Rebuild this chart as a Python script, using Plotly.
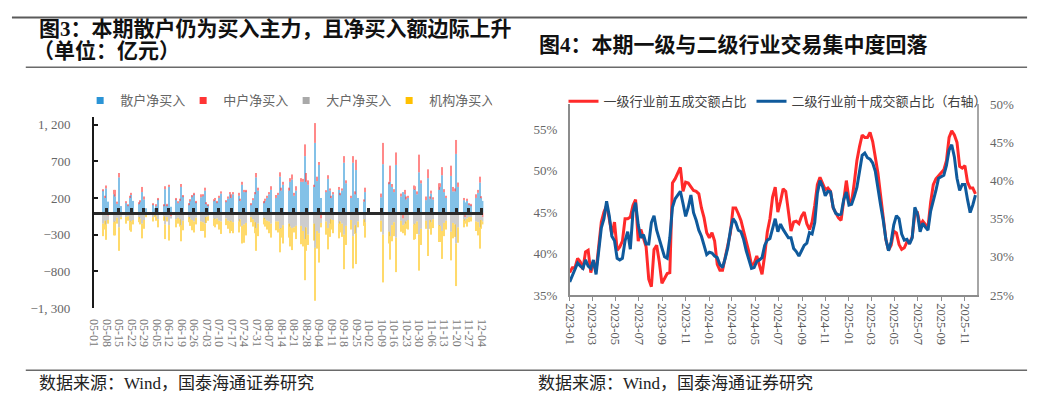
import plotly.graph_objects as go
import pandas as pd

W, H = 1038, 408

# ---------------- Left chart data (亿元), trading days of 2025 ----------------
trade_days = [
    # May
    "05-06", "05-07", "05-08", "05-09", "05-12", "05-13", "05-14", "05-15", "05-16", "05-19",
    "05-20", "05-21", "05-22", "05-23", "05-26", "05-27", "05-28", "05-29", "05-30",
    # June
    "06-03", "06-04", "06-05", "06-06", "06-09", "06-10", "06-11", "06-12", "06-13", "06-16",
    "06-17", "06-18", "06-19", "06-20", "06-23", "06-24", "06-25", "06-26", "06-27", "06-30",
    # July
    "07-01", "07-02", "07-03", "07-04", "07-07", "07-08", "07-09", "07-10", "07-11", "07-14",
    "07-15", "07-16", "07-17", "07-18", "07-21", "07-22", "07-23", "07-24", "07-25", "07-28",
    "07-29", "07-30", "07-31",
    # August
    "08-01", "08-04", "08-05", "08-06", "08-07", "08-08", "08-11", "08-12", "08-13", "08-14",
    "08-15", "08-18", "08-19", "08-20", "08-21", "08-22", "08-25", "08-26", "08-27", "08-28",
    "08-29",
    # September
    "09-01", "09-02", "09-03", "09-04", "09-05", "09-08", "09-09", "09-10", "09-11", "09-12",
    "09-15", "09-16", "09-17", "09-18", "09-19", "09-22", "09-23", "09-24", "09-25", "09-26",
    "09-29", "09-30",
    # October
    "10-09", "10-10", "10-13", "10-14", "10-15", "10-16", "10-17", "10-20", "10-21", "10-22",
    "10-23", "10-24", "10-27", "10-28", "10-29", "10-30", "10-31",
    # November
    "11-03", "11-04", "11-05", "11-06", "11-07", "11-10", "11-11", "11-12", "11-13", "11-14",
    "11-17", "11-18", "11-19", "11-20", "11-21", "11-24", "11-25", "11-26", "11-27", "11-28",
    # December
    "12-01", "12-02", "12-03", "12-04", "12-05",
]
year = "2025"

retail = [
    300, 200, 330, 150, 250, 220, 120, 480, 90, 130, 100, 200, 240, 160, 120, 150, 280, 180, 60,
    110, 60, 90, 180, 100, 320, 100, 350, 80, 180, 130, 160, 350, 220, 110, 160, 220, 250, 140, 210,
    230, 300, 120, 100, 160, 170, 140, 200, 260, 150, 190, 250, 200, 250, 230, 160, 380, 280, 290, 110, 170, 250, 480,
    300, 140, 160, 200, 250, 310, 200, 240, 490, 300, 380, 300, 420, 450, 230, 300, 420, 420, 770, 420, 380,
    350, 950, 430, 650, 200, 280, 460, 300, 200, 250, 310, 250, 300, 680, 400, 200, 680, 250, 580, 200, 150, 280,
    210, 660, 400, 420, 350, 280, 650, 220, 280, 250, 180, 200, 320, 310, 250, 550, 400,
    170, 470, 190, 260, 180, 310, 350, 510, 280, 200, 500, 290, 290, 800, 350, 170, 140, 160, 110, 100,
    200, 270, 410, 200, 160,
]
mid = [
    20, 30, 40, -40, 60, 90, 30, 60, -20, 20, 10, 30, 30, -30, 10, 10, 70, 40, -20,
    10, -10, 20, 20, 10, 40, 20, 30, -50, 20, 20, 30, 40, 20, 20, 20, 20, 20, 20, 40,
    20, 40, 20, 10, 20, 30, 20, 30, 30, 20, 30, 30, 50, 30, 40, 30, 40, 30, 20, 20, 20, 30, 60,
    40, 20, 30, 30, 30, 50, 40, 30, 60, 40, 40, 40, 50, 70, 40, 60, 50, 40, 160, 120, 60,
    30, 270, 60, 40, -80, 20, 50, 30, 30, 30, 40, 20, 30, 90, 40, 30, 90, 40, 140, -30, 30, 60,
    50, 290, 20, 220, 40, 40, 170, 40, -80, 60, 40, 30, 50, 50, 40, 240, 40,
    50, 120, 30, 40, 30, 90, 50, 110, 40, 30, 140, 60, 40, 190, 60, 30, -60, 30, 20, 20,
    50, 40, 80, 20, -60,
]
large = [
    -150, -110, -160, -60, -130, -120, -70, -200, -40, -60, -50, -110, -120, -70, -60, -80, -150, -100, -20,
    -60, -30, -50, -90, -50, -160, -60, -170, -30, -90, -70, -90, -170, -110, -60, -80, -100, -120, -70, -120,
    -130, -150, -60, -50, -80, -90, -80, -110, -120, -80, -110, -120, -110, -130, -120, -90, -180, -160, -140, -60, -90, -130, -210,
    -150, -70, -90, -110, -120, -150, -120, -120, -220, -210, -170, -150, -190, -210, -200, -180, -180, -250, -360, -200, -300,
    -150, -480, -250, -280, -60, -120, -210, -150, -90, -100, -150, -120, -150, -300, -180, -100, -320, -170, -280, -90, -90, -130,
    -110, -300, -260, -320, -170, -130, -340, -110, -90, -150, -120, -100, -160, -150, -120, -300, -220,
    -110, -230, -100, -130, -90, -170, -180, -250, -140, -110, -260, -140, -160, -420, -200, -90, -50, -80, -60, -60,
    -120, -130, -200, -100, -60,
]
inst = [
    -170, -120, -210, -50, -180, -190, -80, -320, -30, -90, -60, -130, -140, -60, -70, -80, -200, -120, -20,
    -60, -20, -60, -110, -60, -200, -60, -210, 0, -110, -80, -100, -220, -130, -70, -100, -140, -150, -90, -130,
    -120, -190, -80, -60, -100, -110, -80, -120, -170, -90, -110, -160, -140, -150, -150, -100, -240, -250, -170, -70, -100, -150, -310,
    -170, -90, -100, -120, -160, -190, -120, -150, -320, -130, -250, -190, -270, -300, -70, -180, -250, -210, -560, -320, -140,
    -230, -720, -240, -400, -60, -180, -290, -180, -140, -180, -200, -150, -180, -470, -260, -130, -440, -120, -420, -80, -90, -210,
    -150, -650, -160, -320, -220, -190, -470, -150, -110, -160, -100, -130, -210, -210, -170, -490, -220,
    -110, -360, -120, -170, -120, -230, -220, -380, -180, -120, -390, -210, -170, -580, -210, -110, -40, -110, -70, -60,
    -130, -180, -290, -120, -40,
]
left_names = ["散户净买入", "中户净买入", "大户净买入", "机构净买入"]
left_ticks = [-1300, -800, -300, 200, 700, 1200]
left_tick_text = ["−1, 300", "−800", "−300", "200", "700", "1, 200"]

# ---------------- Right chart data (%), weekly ----------------
right_start, right_end = "2023-01-01", "2025-11-29"
top5_lv1 = [
    37.7, 38.3, 38.3, 39.4, 39.0, 38.1, 40.2, 40.4, 37.7, 39.0,
    37.9, 41.2, 43.8, 45.0, 45.8, 44.2, 42.3, 43.8, 40.4, 40.8,
    41.5, 44.2, 44.2, 44.4, 45.8, 46.5, 41.5, 42.9, 41.7, 40.8,
    36.9, 36.0, 40.5, 41.0, 39.0, 36.4, 37.0, 37.6, 37.7, 48.5,
    49.0, 49.8, 50.4, 47.5, 48.6, 48.5, 48.0, 47.6, 47.5, 47.2,
    45.5, 44.3, 42.5, 41.9, 42.5, 41.5, 38.7, 38.0, 38.0, 39.4,
    40.8, 42.5, 45.5, 45.5, 44.8, 44.0, 42.7, 41.5, 40.2, 38.6,
    38.8, 39.7, 38.5, 37.5, 39.8, 42.6, 44.2, 46.8, 48.0, 45.0,
    46.3, 47.8, 47.5, 45.0, 42.7, 43.8, 43.9, 43.6, 44.5, 45.0,
    43.6, 42.9, 43.8, 45.8, 48.3, 49.2, 48.4, 47.7, 47.9, 47.5,
    45.5, 44.8, 44.3, 44.0, 46.5, 48.8, 46.5, 46.2, 48.5, 51.2,
    52.9, 54.3, 54.0, 54.0, 54.6, 53.5, 51.6, 49.7, 47.0, 44.0,
    41.7, 40.4, 41.0, 42.7, 42.5, 41.1, 40.5, 40.7, 41.4, 41.3,
    42.0, 44.8, 44.9, 43.4, 43.9, 43.5, 43.2, 46.2, 48.3, 49.0,
    49.4, 49.8, 50.1, 51.2, 54.0, 54.8, 54.3, 53.4, 50.5, 50.3,
    50.6, 48.6, 47.9, 47.9, 47.2,
]
top10_lv2 = [
    26.7, 27.5, 28.3, 29.2, 28.8, 28.5, 29.6, 28.8, 28.5, 29.6,
    27.7, 30.8, 33.8, 35.0, 37.3, 35.4, 32.7, 32.1, 29.8, 29.6,
    29.8, 32.1, 33.3, 31.0, 35.8, 37.1, 34.2, 32.5, 32.9, 31.7,
    31.7, 34.5, 35.4, 33.5, 32.3, 31.3, 30.0, 29.8, 32.5, 36.5,
    37.6, 38.1, 38.6, 37.0, 35.3, 36.5, 38.1, 35.8, 34.8, 33.5,
    32.7, 31.5, 30.3, 30.6, 30.5, 30.1, 29.9, 29.0, 28.6, 29.8,
    31.2, 33.5, 35.0, 34.5, 33.5, 33.3, 32.3, 30.8, 29.7, 28.5,
    28.6, 29.4, 29.6, 29.9, 31.5, 32.2, 32.4, 33.8, 35.0, 33.3,
    34.3, 33.6, 33.0, 32.5, 32.5, 31.1, 30.7, 30.1, 30.8, 31.5,
    31.8, 33.2, 33.0, 34.5, 38.3, 40.0, 39.2, 38.0, 38.6, 38.5,
    36.5, 35.7, 35.5, 35.6, 37.5, 38.5, 36.8, 36.9, 37.9, 39.1,
    41.2, 43.3, 43.6, 43.0, 42.8, 42.3, 41.2, 38.7, 36.8, 34.8,
    32.3, 30.8, 32.0, 34.2, 35.4, 35.0, 33.0, 32.2, 32.3, 31.7,
    32.5, 36.5, 35.6, 33.3, 34.4, 33.9, 33.5, 36.0, 37.3, 38.7,
    40.3, 40.5, 40.7, 42.0, 44.0, 44.7, 43.1, 40.3, 38.7, 39.5,
    39.5, 37.5, 35.8, 36.8, 38.1,
]
right_names = ["一级行业前五成交额占比", "二级行业前十成交额占比（右轴）"]
left_pct_ticks = [35, 40, 45, 50, 55]
right_pct_ticks = [25, 30, 35, 40, 45, 50]

# ---------------- helpers ----------------
def fx(p):
    return p / W


def fy(p):
    return 1 - p / H


SERIF = "Liberation Serif, Noto Sans CJK SC"
DAY = 86400000

bar_dates = pd.to_datetime([f"{year}-{d}" for d in trade_days])
line_dates = pd.date_range(right_start, right_end, periods=len(top5_lv1))

bar_colors = ["#2B94D6", "#FF3535", "#A9A9A9", "#FFC000"]

fig = go.Figure()

for name, vals, col in zip(left_names, [retail, mid, large, inst], bar_colors):
    fig.add_trace(go.Bar(
        x=bar_dates, y=vals, name=name, width=0.6 * DAY,
        marker=dict(color=col, line=dict(width=0)), opacity=0.58,
        xaxis="x", yaxis="y", showlegend=False, hoverinfo="skip",
    ))
# legend proxies (small squares like the original)
for name, col in zip(left_names, bar_colors):
    fig.add_trace(go.Scatter(
        x=[None], y=[None], mode="markers", name=name,
        marker=dict(symbol="square", size=7, color=col),
        xaxis="x", yaxis="y", legend="legend",
    ))
# zero axis carrier (invisible)
fig.add_trace(go.Scatter(x=bar_dates[:1], y=[None], xaxis="x3", yaxis="y",
                         showlegend=False, hoverinfo="skip"))

fig.add_trace(go.Scatter(
    x=line_dates, y=top5_lv1, name=right_names[0], mode="lines",
    line=dict(color="#FF2A2A", width=3), xaxis="x2", yaxis="y2", legend="legend2",
))
fig.add_trace(go.Scatter(
    x=line_dates, y=top10_lv2, name=right_names[1], mode="lines",
    line=dict(color="#0F5A9C", width=3), xaxis="x2", yaxis="y4", legend="legend2",
))

# --- domains
L_x = [fx(88), fx(482)]
L_y = [fy(312.6), fy(114.4)]
R_x = [fx(569.3), fx(981.7)]
R_y = [fy(299), fy(101)]
zero_pos = L_y[0] + (L_y[1] - L_y[0]) * 0.5

tick_font = dict(family=SERIF, size=13, color="#666666")

fig.update_layout(
    width=W, height=H, margin=dict(l=0, r=0, t=0, b=0),
    paper_bgcolor="white", plot_bgcolor="white",
    barmode="relative",
    xaxis=dict(
        type="date", domain=L_x, anchor="y",
        range=["2025-05-01", "2025-12-05 02:00"],
        tick0="2025-05-01", dtick=7 * DAY, tickformat="%m-%d", tickangle=90,
        showline=False, ticks="", showgrid=False, zeroline=False,
        tickfont=dict(family=SERIF, size=12, color="#777777"), ticklabelstandoff=10,
    ),
    xaxis3=dict(
        type="date", overlaying="x", anchor="free", position=zero_pos,
        range=["2025-05-01", "2025-12-05 02:00"],
        tick0="2025-05-01", dtick=7 * DAY, showticklabels=False,
        showline=True, linecolor="#2a2a2a", linewidth=2.5,
        ticks="inside", ticklen=4, tickwidth=2.5, tickcolor="#2a2a2a",
        showgrid=False, zeroline=False,
    ),
    yaxis=dict(
        domain=L_y, anchor="x", range=[-1300, 1300],
        tickvals=left_ticks, ticktext=left_tick_text,
        showline=True, linecolor="#1a1a1a", linewidth=2,
        ticks="inside", ticklen=4, tickwidth=1.5, tickcolor="#1a1a1a",
        showgrid=False, zeroline=False, tickfont=tick_font, ticklabelstandoff=19,
    ),
    xaxis2=dict(
        type="date", domain=R_x, anchor="y2",
        range=["2023-01-01", "2025-12-04"],
        tick0="2023-01-01", dtick="M2", tickformat="%Y-%m", tickangle=90,
        showline=True, linecolor="#8c8c8c", linewidth=1.5,
        ticks="outside", ticklen=4, tickcolor="#8c8c8c",
        showgrid=False, zeroline=False,
        tickfont=dict(family=SERIF, size=12.5, color="#555555"),
    ),
    yaxis2=dict(
        domain=R_y, anchor="x2", range=[35, 58],
        tickvals=left_pct_ticks, ticktext=[f"{v}%" for v in left_pct_ticks],
        showline=True, linecolor="#8c8c8c", linewidth=1.5, ticks="",
        showgrid=False, zeroline=False, tickfont=tick_font, ticklabelstandoff=8,
    ),
    yaxis4=dict(
        overlaying="y2", side="right", anchor="x2", range=[25, 50],
        tickvals=right_pct_ticks, ticktext=[f"{v}%" for v in right_pct_ticks],
        showline=True, linecolor="#a6a6a6", linewidth=2, ticks="",
        showgrid=False, zeroline=False, tickfont=tick_font, ticklabelstandoff=8,
    ),
    legend=dict(
        orientation="h", x=fx(74), xanchor="left", y=fy(97), yanchor="middle",
        bgcolor="rgba(0,0,0,0)", font=dict(family=SERIF, size=13, color="#666666"),
        entrywidth=58, entrywidthmode="pixels", itemwidth=30,
    ),
    legend2=dict(
        orientation="h", x=fx(563), xanchor="left", y=fy(98), yanchor="middle",
        bgcolor="rgba(0,0,0,0)", font=dict(family=SERIF, size=13, color="#404040"),
        itemwidth=30, tracegroupgap=0,
    ),
    showlegend=True,
)

# decoration lines
line_style = dict(color="#5a5a5a", width=2)
fig.add_shape(type="line", xref="paper", yref="paper", x0=fx(5), x1=fx(1032), y0=fy(11), y1=fy(11), line=line_style)
fig.add_shape(type="line", xref="paper", yref="paper", x0=fx(19), x1=fx(1032), y0=fy(62.5), y1=fy(62.5),
              line=dict(color="#6a6a6a", width=1.5))
fig.add_shape(type="line", xref="paper", yref="paper", x0=fx(19), x1=fx(1032), y0=fy(377), y1=fy(377),
              line=dict(color="#6a6a6a", width=1.5))

title_font = dict(family=SERIF, size=21, color="#111111")
fig.add_annotation(text="<b>图3：本期散户仍为买入主力，且净买入额边际上升</b>", x=fx(30), y=fy(23),
                   xref="paper", yref="paper", xanchor="left", yanchor="middle", showarrow=False, font=title_font)
fig.add_annotation(text="<b>（单位：亿元）</b>", x=fx(24), y=fy(46),
                   xref="paper", yref="paper", xanchor="left", yanchor="middle", showarrow=False, font=title_font)
fig.add_annotation(text="<b>图4：本期一级与二级行业交易集中度回落</b>", x=fx(536), y=fy(39),
                   xref="paper", yref="paper", xanchor="left", yanchor="middle", showarrow=False, font=title_font)

src_font = dict(family=SERIF, size=17, color="#222222")
for x0 in (30, 535):
    fig.add_annotation(text="数据来源：Wind，国泰海通证券研究", x=fx(x0), y=fy(391),
                       xref="paper", yref="paper", xanchor="left", yanchor="middle", showarrow=False, font=src_font)

fig.write_html("out.html")
